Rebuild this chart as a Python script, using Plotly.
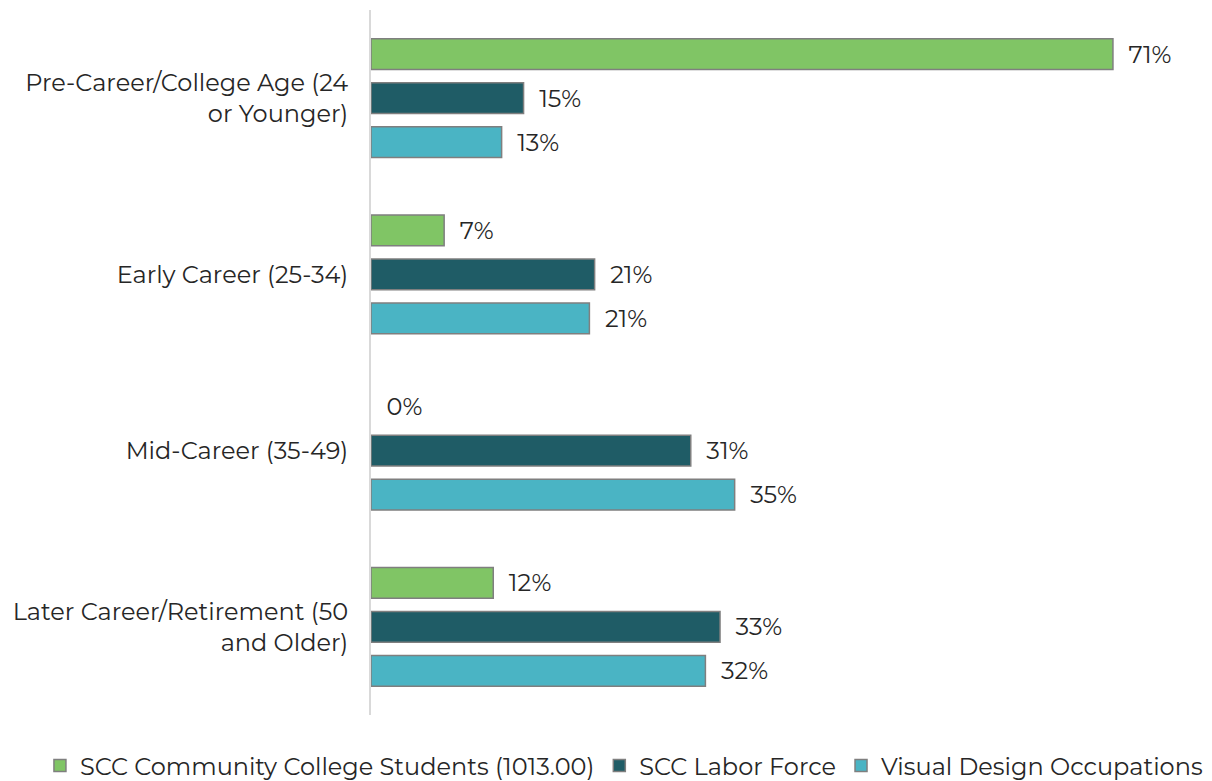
import plotly.graph_objects as go

categories = [
    "Pre-Career/College Age (24<br>or Younger)",
    "Early Career (25-34)",
    "Mid-Career (35-49)",
    "Later Career/Retirement (50<br>and Older)",
]
series_names = [
    "SCC Community College Students (1013.00)",
    "SCC Labor Force",
    "Visual Design Occupations",
]
students = [71.0, 7.0, 0.0, 11.7]
labor_force = [14.6, 21.4, 30.6, 33.4]
visual_design = [12.5, 20.9, 34.8, 32.0]

colors = ["#80C565", "#1F5C66", "#4AB4C4"]
font_family = "Montserrat, 'Open Sans', Lato, sans-serif"
text_color = "#262626"
fsize = 24

fig = go.Figure()
for name, vals, col in zip(series_names, [students, labor_force, visual_design], colors):
    fig.add_trace(go.Bar(
        y=categories,
        x=vals,
        name=name,
        orientation="h",
        marker=dict(color=col,
                    line=dict(color="#7F7F7F",
                              width=[1.5 if v > 0 else 0 for v in vals])),
        texttemplate="\u00a0\u00a0%{x:.0f}%",
        textposition="outside",
        constraintext="none",
        cliponaxis=False,
        textfont=dict(size=fsize, color=text_color, family=font_family),
    ))

# the page body adds an 8px margin; compensate so the plot area lands where the reference has it
fig.update_layout(
    width=1204,
    height=773,
    paper_bgcolor="white",
    plot_bgcolor="white",
    barmode="group",
    bargap=0.25,
    bargroupgap=0.3,
    margin=dict(l=363, r=5, t=2, b=66, autoexpand=False),
    font=dict(family=font_family, size=fsize, color=text_color),
    xaxis=dict(range=[0, 80], visible=False, showgrid=False, zeroline=False,
               automargin=False),
    yaxis=dict(
        autorange="reversed",
        showline=True,
        linecolor="#D9D9D9",
        linewidth=2,
        ticks="",
        showgrid=False,
        automargin=False,
        ticklabelstandoff=16,
        tickfont=dict(size=fsize, color=text_color, family=font_family),
    ),
    legend=dict(
        orientation="h",
        x=-0.396,
        xanchor="left",
        xref="paper",
        y=-0.0723,
        yanchor="middle",
        yref="paper",
        font=dict(size=fsize, color=text_color, family=font_family),
        itemwidth=30,
        tracegroupgap=0,
    ),
    showlegend=True,
)

fig.write_html("out.html")
